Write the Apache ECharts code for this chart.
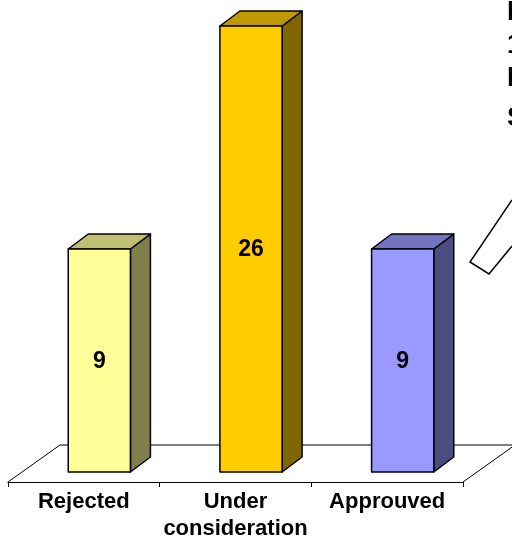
<!DOCTYPE html>
<html>
<head>
<meta charset="utf-8">
<script src="https://cdn.jsdelivr.net/npm/echarts@6/dist/echarts.min.js"></script>
<style>
  html, body { margin: 0; padding: 0; background: #fff; }
  #chart { width: 512px; height: 542px; }
</style>
</head>
<body>
<div id="chart"></div>
<script>
const categories = ["Rejected", "Under\nconsideration", "Approuved"];
const values = [9, 26, 9];
const frontColors = ["#FFFF99", "#FFCC00", "#9999FF"];
const sideColors = ["#7F7F4C", "#7F6600", "#4C4C7F"];
const topColors = ["#BFBF73", "#BF9900", "#7373BF"];
const axisMin = -8;
const axisMax = 26;
// text box on the right, cut off by the picture edge
const noteLines = ["E", "1", "E", "S"];
const noteTops = [-1, 32, 65, 105];

const FONT = '"Liberation Sans", Arial, sans-serif';
const stroke = { stroke: "#000", lineWidth: 1.5, lineJoin: "round" };

// floor of the 3d plot, drawn from the grid rect
function renderFloor(params) {
  const cs = params.coordSys;
  const left = cs.x, right = cs.x + cs.width, bottom = cs.y + cs.height;
  const dx = 52, dy = 37;
  return {
    type: "polyline",
    shape: {
      points: [
        [left, bottom],
        [left + dx, bottom - dy],
        [right + dx, bottom - dy],
        [right, bottom],
      ],
    },
    style: { stroke: "#000", lineWidth: 1, fill: null },
    silent: true,
  };
}

function renderBar(params, api) {
  const i = api.value(0);
  const top = api.coord([i, api.value(1)]);
  const base = api.coord([i, axisMin]);
  const band = api.size([1, 0])[0];
  const w = band * 0.41;
  const cx = top[0] + 15.5;
  const x0 = cx - w / 2, x1 = cx + w / 2;
  const y0 = top[1] - 10, y1 = base[1] - 10;
  const dx = 20, dy = 15;
  return {
    type: "group",
    children: [
      {
        type: "polygon",
        shape: { points: [[x1, y0], [x1 + dx, y0 - dy], [x1 + dx, y1 - dy], [x1, y1]] },
        style: Object.assign({ fill: sideColors[i] }, stroke),
      },
      {
        type: "polygon",
        shape: { points: [[x0, y0], [x1, y0], [x1 + dx, y0 - dy], [x0 + dx, y0 - dy]] },
        style: Object.assign({ fill: topColors[i] }, stroke),
      },
      {
        type: "rect",
        shape: { x: x0, y: y0, width: w, height: y1 - y0 },
        style: Object.assign({ fill: frontColors[i] }, stroke),
      },
      {
        type: "text",
        style: {
          text: String(api.value(1)),
          x: cx,
          y: (y0 + y1) / 2 + 1,
          align: "center",
          verticalAlign: "middle",
          font: "bold 23px " + FONT,
          fill: "#000",
        },
      },
    ],
  };
}

const chart = echarts.init(document.getElementById("chart"));

const noteText = noteLines.map((t, k) => ({
  type: "text",
  left: 507,
  top: noteTops[k],
  style: { text: t, font: "bold 27px " + FONT, fill: "#000" },
}));

chart.setOption({
  animation: false,
  backgroundColor: "#fff",
  grid: { left: 8, right: 49, top: 36, bottom: 60 },
  xAxis: {
    type: "category",
    data: categories,
    axisLine: { onZero: false, lineStyle: { color: "#000", width: 1 } },
    axisTick: { show: true, length: 5, lineStyle: { color: "#000" } },
    axisLabel: {
      color: "#000",
      fontFamily: FONT,
      fontWeight: "bold",
      fontSize: 22,
      lineHeight: 27,
      margin: 6,
      interval: 0,
    },
  },
  yAxis: {
    type: "value",
    min: axisMin,
    max: axisMax,
    show: false,
    splitLine: { show: false },
  },
  graphic: noteText.concat([
    {
      type: "polyline",
      shape: { points: [[512, 200], [470, 262], [489, 274], [512, 246]] },
      style: { stroke: "#000", lineWidth: 1.5, fill: null },
    },
  ]),
  series: [
    {
      type: "custom",
      renderItem: renderFloor,
      data: [[0, 0]],
      z: 1,
      silent: true,
    },
    {
      type: "custom",
      renderItem: renderBar,
      data: values.map((v, i) => [i, v]),
      z: 2,
    },
  ],
});
</script>
</body>
</html>
